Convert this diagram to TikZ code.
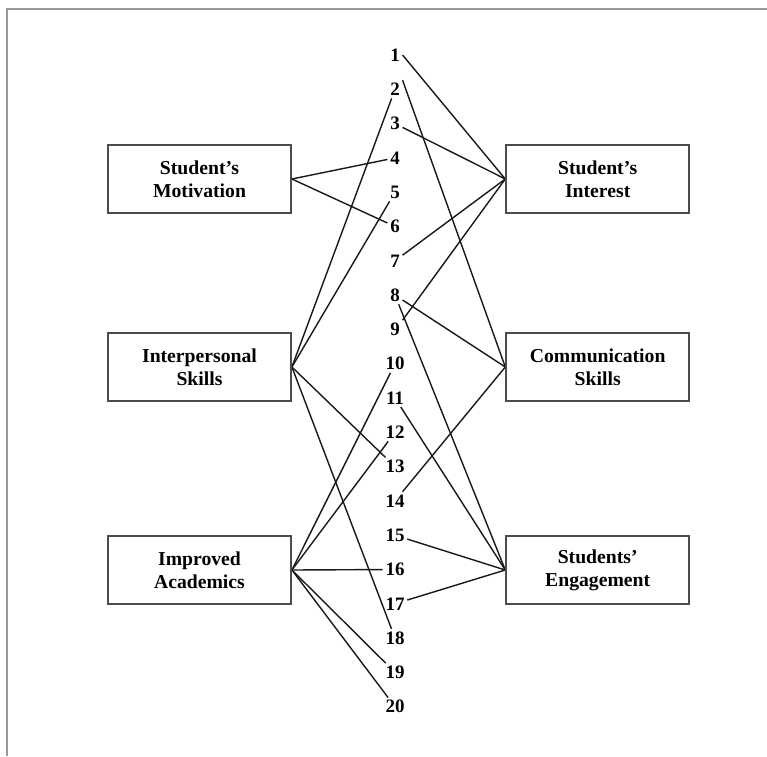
\documentclass[tikz,border=0pt]{standalone}
\usepackage{fontspec}
\setmainfont{Liberation Serif}
\usepackage{tikz}
\pgfdeclarelayer{bg}
\pgfsetlayers{bg,main}

\begin{document}
\begin{tikzpicture}[
        factor/.style={draw=black!70, line width=1.3pt, minimum width=4.575cm,
                minimum height=1.7cm, align=center, font=\bfseries\fontsize{14}{16.5}\selectfont},
        item/.style={inner sep=1.8pt, font=\bfseries\fontsize{13.5}{15}\selectfont},
        link/.style={line width=1pt, black!90}]
        \useasboundingbox (-9.5875cm, 9.45cm) rectangle (9.5875cm, -9.45cm);
        \draw [black!40, line width=1.3pt] (9.5875cm, 9.22cm) -- (-9.41cm, 9.22cm) -- (-9.41cm, -9.45cm);
        \node (b0) [factor] at (-4.600000cm, 4.975000cm) {Student’s\\Motivation};
        \node (b1) [factor] at (5.355000cm, 4.975000cm) {Student’s\\Interest};
        \node (b2) [factor] at (-4.600000cm, 0.275000cm) {Interpersonal\\Skills};
        \node (b3) [factor] at (5.355000cm, 0.275000cm) {Communication\\Skills};
        \node (b4) [factor] at (-4.600000cm, -4.800000cm) {Improved\\Academics};
        \node (b5) [factor] at (5.355000cm, -4.800000cm) {Students’\\Engagement};
        \node (n1) [item] at (0.287500cm, 8.075000cm) {1};
        \node (n2) [item] at (0.287500cm, 7.217500cm) {2};
        \node (n3) [item] at (0.287500cm, 6.360000cm) {3};
        \node (n4) [item] at (0.287500cm, 5.502500cm) {4};
        \node (n5) [item] at (0.287500cm, 4.645000cm) {5};
        \node (n6) [item] at (0.287500cm, 3.787500cm) {6};
        \node (n7) [item] at (0.287500cm, 2.930000cm) {7};
        \node (n8) [item] at (0.287500cm, 2.072500cm) {8};
        \node (n9) [item] at (0.287500cm, 1.215000cm) {9};
        \node (n10) [item] at (0.287500cm, 0.357500cm) {10};
        \node (n11) [item] at (0.287500cm, -0.500000cm) {11};
        \node (n12) [item] at (0.287500cm, -1.357500cm) {12};
        \node (n13) [item] at (0.287500cm, -2.215000cm) {13};
        \node (n14) [item] at (0.287500cm, -3.072500cm) {14};
        \node (n15) [item] at (0.287500cm, -3.930000cm) {15};
        \node (n16) [item] at (0.287500cm, -4.787500cm) {16};
        \node (n17) [item] at (0.287500cm, -5.645000cm) {17};
        \node (n18) [item] at (0.287500cm, -6.502500cm) {18};
        \node (n19) [item] at (0.287500cm, -7.360000cm) {19};
        \node (n20) [item] at (0.287500cm, -8.217500cm) {20};
        \begin{pgfonlayer}{bg}
                \draw (b0.east) edge [link] (n4);
                \draw (b0.east) edge [link] (n6);
                \draw (b2.east) edge [link] (n2);
                \draw (b2.east) edge [link] (n5);
                \draw (b2.east) edge [link] (n13);
                \draw (b2.east) edge [link] (n18);
                \draw (b4.east) edge [link] (n10);
                \draw (b4.east) edge [link] (n12);
                \draw (b4.east) edge [link] (n16);
                \draw (b4.east) edge [link] (n19);
                \draw (b4.east) edge [link] (n20);
                \draw (n1.east) edge [link] (b1.west);
                \draw (n3) edge [link] (b1.west);
                \draw (n7) edge [link] (b1.west);
                \draw (n9.north east) edge [link] (b1.west);
                \draw (n2.north east) edge [link] (b3.west);
                \draw (n8) edge [link] (b3.west);
                \draw (n14) edge [link] (b3.west);
                \draw (n8) edge [link] (b5.west);
                \draw (n11) edge [link] (b5.west);
                \draw (n15) edge [link] (b5.west);
                \draw (n17) edge [link] (b5.west);
        \end{pgfonlayer}
\end{tikzpicture}
\end{document}
